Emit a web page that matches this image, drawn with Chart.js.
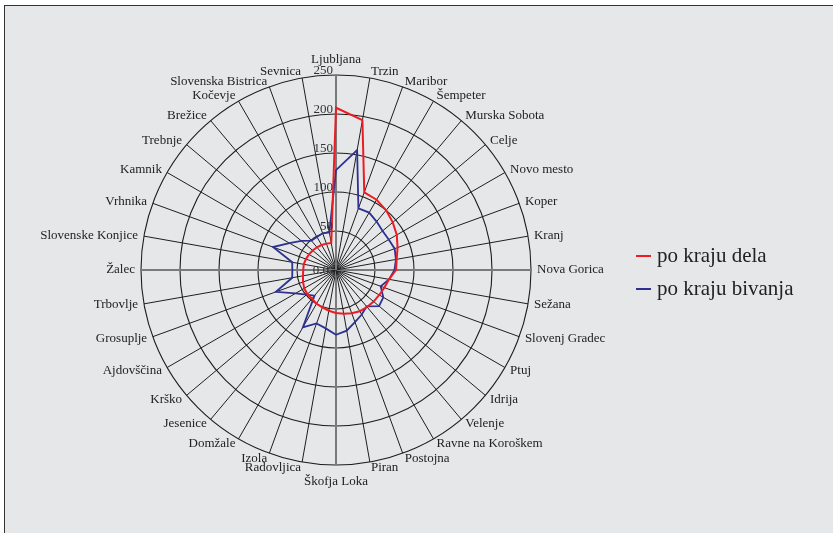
<!DOCTYPE html>
<html>
<head>
<meta charset="utf-8">
<script src="https://cdn.jsdelivr.net/npm/chart.js@4.4.1/dist/chart.umd.min.js"></script>
<style>
  body { margin: 0; background: #fff; }
  #wrap { position: relative; width: 833px; height: 533px; overflow: hidden; }
  #frame {
    position: absolute; left: 4px; top: 5px; right: 0; bottom: 0;
    background: #e6e7e9;
    border-top: 1px solid #333; border-left: 1px solid #333;
  }
  #chartBox { position: absolute; left: 0; top: 0; width: 833px; height: 533px; }
  .legend {
    position: absolute; left: 636px;
    font-family: "Liberation Serif", serif; font-size: 21px; color: #222;
  }
  .legend div { height: 33px; line-height: 33px; white-space: nowrap; }
  .legend span.mark { display: inline-block; width: 15px; height: 2px; vertical-align: middle; margin-right: 6px; position: relative; top: -1px; }
</style>
</head>
<body>
<div id="wrap">
  <div id="frame"></div>
  <div id="chartBox"><canvas id="radar"></canvas></div>
  <div class="legend" style="top:239px">
    <div><span class="mark" style="background:#ed1c24"></span>po kraju dela</div>
    <div><span class="mark" style="background:#2e3192"></span>po kraju bivanja</div>
  </div>
</div>
<script>
// categories, clockwise from the top
const towns = [
  "Ljubljana", "Trzin", "Maribor", "Šempeter", "Murska Sobota", "Celje",
  "Novo mesto", "Koper", "Kranj", "Nova Gorica", "Sežana", "Slovenj Gradec",
  "Ptuj", "Idrija", "Velenje", "Ravne na Koroškem", "Postojna", "Piran",
  "Škofja Loka", "Radovljica", "Izola", "Domžale", "Jesenice", "Krško",
  "Ajdovščina", "Grosuplje", "Trbovlje", "Žalec", "Slovenske Konjice", "Vrhnika",
  "Kamnik", "Trebnje", "Brežice", "Kočevje", "Slovenska Bistrica", "Sevnica"
];

// po kraju dela (red)
const poKrajuDela = [
  208, 195, 106, 104, 100, 95,
  90, 84, 79, 77, 69, 66,
  64, 63, 62, 61, 59, 57,
  55, 53, 51, 50, 48, 48,
  47, 45, 43, 42, 42, 41,
  40, 39, 38, 37, 36, 35
];

// po kraju bivanja (blue)
const poKrajuBivanja = [
  128, 156, 84, 85, 81, 78,
  78, 80, 78, 75, 69, 61,
  70, 72, 61, 66, 71, 79,
  83, 76, 73, 85, 43, 49,
  60, 82, 57, 56, 57, 86,
  69, 58, 49, 49, 50, 49
];

const tickValues = [0, 50, 100, 150, 200, 250];
const tickLabels = ["0.0", "50", "100", "150", "200", "250"];

const axisIdx = [0, 9, 18, 27];
const serif = "'Liberation Serif', serif";

// town names: centred on their spoke end like the original, not stacked above it
const townLabelPlugin = {
  id: "townLabelPlugin",
  afterDraw(chart) {
    const s = chart.scales.r;
    const ctx = chart.ctx;
    ctx.save();
    ctx.font = "13px " + serif;
    ctx.fillStyle = "#222";
    towns.forEach((name, i) => {
      const ang = s.getIndexAngle(i);
      const sin = Math.sin(ang);
      let gap = 6;
      if (i === 0) gap = 9;
      if (i === 18) gap = 10;
      const p = s.getPointPosition(i, s.drawingArea + gap);
      ctx.textAlign = sin > 0.01 ? "left" : (sin < -0.01 ? "right" : "center");
      if (i === 0) ctx.textBaseline = "bottom";
      else if (i === 18) ctx.textBaseline = "top";
      else ctx.textBaseline = "middle";
      ctx.fillText(name, p.x, p.y);
    });
    ctx.restore();
  }
};

// radial tick labels sit just left of the top spoke
const tickLabelPlugin = {
  id: "tickLabelPlugin",
  afterDatasetsDraw(chart) {
    const s = chart.scales.r;
    const ctx = chart.ctx;
    ctx.save();
    ctx.font = "13px " + serif;
    ctx.fillStyle = "#333";
    ctx.textAlign = "right";
    tickValues.forEach((v, i) => {
      const d = s.getDistanceFromCenterForValue(v);
      if (v === 0) {
        ctx.textBaseline = "middle";
        ctx.fillText(tickLabels[i], s.xCenter - 7, s.yCenter + 1);
      } else {
        ctx.textBaseline = "alphabetic";
        ctx.fillText(tickLabels[i], s.xCenter - 3, s.yCenter - d - 1);
      }
    });
    ctx.restore();
  }
};

new Chart(document.getElementById("radar"), {
  type: "radar",
  data: {
    labels: towns,
    datasets: [
      {
        label: "po kraju dela",
        data: poKrajuDela,
        borderColor: "#ed1c24",
        borderWidth: 2,
        fill: false,
        pointRadius: 0,
        tension: 0
      },
      {
        label: "po kraju bivanja",
        data: poKrajuBivanja,
        borderColor: "#2e3192",
        borderWidth: 1.8,
        fill: false,
        pointRadius: 0,
        tension: 0
      }
    ]
  },
  options: {
    responsive: true,
    maintainAspectRatio: false,
    animation: false,
    layout: { padding: { left: 0, right: 161, top: 75, bottom: 68 } },
    plugins: { legend: { display: false }, tooltip: { enabled: false } },
    scales: {
      r: {
        min: 0,
        max: 250,
        ticks: { display: false, stepSize: 50 },
        grid: { circular: true, color: "#1e1e1e", lineWidth: 1.1 },
        angleLines: {
          color: (c) => axisIdx.includes(c.index) ? "#7a7a7a" : "#1e1e1e",
          lineWidth: (c) => axisIdx.includes(c.index) ? 2 : 1
        },
        pointLabels: { display: false }
      }
    }
  },
  plugins: [tickLabelPlugin, townLabelPlugin]
});
</script>
</body>
</html>
